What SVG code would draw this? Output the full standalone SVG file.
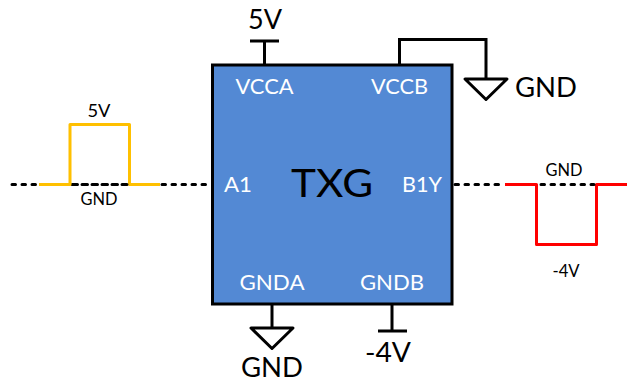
<svg xmlns="http://www.w3.org/2000/svg" width="627" height="383" viewBox="0 0 627 383">
<style>
text{font-family:"Lato","Open Sans","Liberation Sans",sans-serif;text-anchor:middle}
.w{fill:#fff;font-size:22px}
.k{fill:#000;font-size:27px}
.s{fill:#000;font-size:16.500px}
.l{fill:none;stroke:#000;stroke-width:3}
.d{fill:none;stroke:#000;stroke-width:3;stroke-dasharray:3.500 6.500;stroke-linecap:round}
.y{fill:none;stroke:#FFC000;stroke-width:3;stroke-linejoin:round}
.r{fill:none;stroke:#FF0000;stroke-width:3;stroke-linejoin:round}
</style>
<rect width="627" height="383" fill="#fff"/>
<g id="signal-a">
<path class="d" d="M12 184.500H210"/>
<path class="y" d="M39 184.500H70V124.500H129.500V184.500H160"/>
<path class="d" d="M74 184.500H127"/>
<text class="s" x="99" y="117" textLength="23" lengthAdjust="spacingAndGlyphs">5V</text>
<text class="s" x="99" y="205" textLength="37" lengthAdjust="spacingAndGlyphs">GND</text>
</g>
<g id="signal-b">
<path class="d" d="M455 184.500H505"/>
<path class="r" d="M505 184.500H536.500V244.500H596.500V184.500H627"/>
<path class="d" d="M541 184.500H594"/>
<text class="s" x="564" y="176" textLength="37" lengthAdjust="spacingAndGlyphs">GND</text>
<text class="s" x="566" y="277" textLength="27" lengthAdjust="spacingAndGlyphs">-4V</text>
</g>
<g id="connectors">
<path class="l" d="M264.500 64V41M250 41H279"/>
<path class="l" d="M399.500 64V39.500H486V79"/>
<path class="l" d="M272 304V328"/>
<path class="l" d="M392 304V331M378 331H407"/>
</g>
<g id="gnd-vccb"><path class="l" stroke-linejoin="round" d="M465 79H507L486 99.500Z"/><text class="k" x="546" y="97" textLength="62" lengthAdjust="spacingAndGlyphs">GND</text></g>
<g id="gnd-a"><path class="l" stroke-linejoin="round" d="M251 328H293L272 348.500Z"/><text class="k" x="272" y="377" textLength="62" lengthAdjust="spacingAndGlyphs">GND</text></g>
<g id="label-5v"><text class="k" x="265" y="29" textLength="34" lengthAdjust="spacingAndGlyphs">5V</text></g>
<g id="label-m4v"><text class="k" x="388" y="362" textLength="46" lengthAdjust="spacingAndGlyphs">-4V</text></g>
<g id="txg">
<rect x="212.500" y="65" width="239.500" height="239" fill="#5389D4" stroke="#000" stroke-width="3"/>
<text x="332" y="197" font-size="38" textLength="82" lengthAdjust="spacingAndGlyphs">TXG</text>
<text class="w" x="264.500" y="94" textLength="58" lengthAdjust="spacingAndGlyphs">VCCA</text>
<text class="w" x="399.500" y="94" textLength="57" lengthAdjust="spacingAndGlyphs">VCCB</text>
<text class="w" x="238" y="192" textLength="28" lengthAdjust="spacingAndGlyphs">A1</text>
<text class="w" x="422" y="192" textLength="40" lengthAdjust="spacingAndGlyphs">B1Y</text>
<text class="w" x="272" y="290" textLength="65" lengthAdjust="spacingAndGlyphs">GNDA</text>
<text class="w" x="392" y="290" textLength="64" lengthAdjust="spacingAndGlyphs">GNDB</text>
</g>
</svg>
